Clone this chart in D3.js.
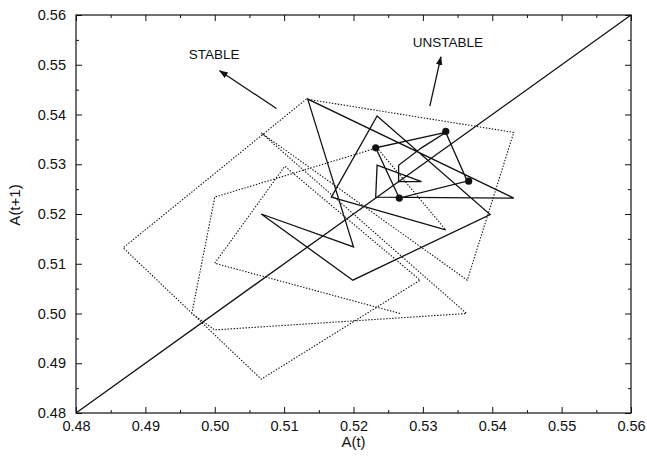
<!DOCTYPE html>
<html><head><meta charset="utf-8">
<script src="https://cdn.jsdelivr.net/npm/d3@7"></script>
<style>
body{margin:0;background:#fff}
svg{display:block}
text{font-family:"Liberation Sans",Arial,Helvetica,sans-serif;fill:#111}
</style>
</head><body>
<svg id="chart" width="647" height="456"></svg>
<script>
// ---- data ----
const xTicks = [0.48,0.49,0.50,0.51,0.52,0.53,0.54,0.55,0.56];
const yTicks = [0.48,0.49,0.50,0.51,0.52,0.53,0.54,0.55,0.56];
const xTickLabels = ["0.48","0.49","0.50","0.51","0.52","0.53","0.54","0.55","0.56"];
const yTickLabels = ["0.48","0.49","0.50","0.51","0.52","0.53","0.54","0.55","0.56"];
const minorTicks = [0.485,0.495,0.505,0.515,0.525,0.535,0.545,0.555];
// time series A(t); points are (A(t), A(t+1))
const unstableSeries = [0.5333,0.5168,0.5234,0.5397,0.5199,0.5067,0.5200,0.5134,0.5431,0.5232,0.5234,0.5298,0.5265,0.5265,0.5298,0.5333,0.5364,0.5266,0.5232,0.5333,0.5364];
const stableSeries = [0.5267,0.5000,0.5101,0.5296,0.5067,0.4868,0.5132,0.5431,0.5364,0.5067,0.5363,0.5000,0.4967,0.5000,0.5234,0.5333,0.5168];
const cycleSeries = [0.5232,0.5333,0.5366,0.5266,0.5232];
const diagonal = [0.48,0.56];
const annotations = ["STABLE","UNSTABLE"];

// ---- layout ----
const W=647,H=456;
const m={left:76,right:16,top:15,bottom:43};
const svg=d3.select("#chart");
const x=d3.scaleLinear().domain([0.48,0.56]).range([m.left,W-m.right]);
const y=d3.scaleLinear().domain([0.48,0.56]).range([H-m.bottom,m.top]);
const ink="#111";

function pairs(a){const p=[];for(let i=0;i<a.length-1;i++)p.push([a[i],a[i+1]]);return p;}
const line=d3.line().x(d=>x(d[0])).y(d=>y(d[1]));

// axes
const fmtX=(d,i)=>xTickLabels[i], fmtY=(d,i)=>yTickLabels[i];
function styleAxis(g){g.select(".domain").remove();g.selectAll("line").attr("stroke",ink).attr("stroke-width",1);g.selectAll("text").attr("font-size","14.5px").attr("fill",ink);}
svg.append("g").attr("transform",`translate(0,${H-m.bottom})`)
  .call(d3.axisBottom(x).tickValues(xTicks).tickFormat(fmtX).tickSize(-6).tickPadding(8)).call(styleAxis);
svg.append("g").attr("transform",`translate(0,${H-m.bottom})`)
  .call(d3.axisBottom(x).tickValues(minorTicks).tickFormat("").tickSize(-3)).call(styleAxis);
svg.append("g").attr("transform",`translate(0,${m.top})`)
  .call(d3.axisTop(x).tickValues(xTicks).tickFormat("").tickSize(-6)).call(styleAxis);
svg.append("g").attr("transform",`translate(0,${m.top})`)
  .call(d3.axisTop(x).tickValues(minorTicks).tickFormat("").tickSize(-3)).call(styleAxis);
svg.append("g").attr("transform",`translate(${m.left},0)`)
  .call(d3.axisLeft(y).tickValues(yTicks).tickFormat(fmtY).tickSize(-6).tickPadding(10)).call(styleAxis);
svg.append("g").attr("transform",`translate(${m.left},0)`)
  .call(d3.axisLeft(y).tickValues(minorTicks).tickFormat("").tickSize(-3)).call(styleAxis);
svg.append("g").attr("transform",`translate(${W-m.right},0)`)
  .call(d3.axisRight(y).tickValues(yTicks).tickFormat("").tickSize(-6)).call(styleAxis);
svg.append("g").attr("transform",`translate(${W-m.right},0)`)
  .call(d3.axisRight(y).tickValues(minorTicks).tickFormat("").tickSize(-3)).call(styleAxis);

// frame
svg.append("rect").attr("x",m.left).attr("y",m.top).attr("width",W-m.left-m.right).attr("height",H-m.top-m.bottom)
  .attr("fill","none").attr("stroke",ink).attr("stroke-width",1.2);

// axis titles
svg.append("text").attr("x",(m.left+W-m.right)/2).attr("y",447).attr("text-anchor","middle").attr("font-size","15px").text("A(t)");
svg.append("text").attr("transform","translate(20,205) rotate(-90)").attr("text-anchor","middle").attr("font-size","15px").text("A(t+1)");

// diagonal
svg.append("path").datum(diagonal.map(v=>[v,v])).attr("d",line).attr("fill","none").attr("stroke",ink).attr("stroke-width",1.3);

// stable (dotted)
svg.append("path").datum(pairs(stableSeries)).attr("d",line).attr("fill","none")
  .attr("stroke",ink).attr("stroke-width",1.1).attr("stroke-dasharray","1.4,1.6");
// unstable (solid)
svg.append("path").datum(pairs(unstableSeries)).attr("d",line).attr("fill","none")
  .attr("stroke",ink).attr("stroke-width",1.3).attr("stroke-linejoin","miter");
// period-4 cycle dots
svg.selectAll("circle.cyc").data(pairs(cycleSeries).slice(0,4)).enter().append("circle")
  .attr("cx",d=>x(d[0])).attr("cy",d=>y(d[1])).attr("r",3.6).attr("fill",ink);

// annotations
svg.append("defs").append("marker").attr("id","ah").attr("viewBox","0 0 10 10").attr("refX",9).attr("refY",5)
  .attr("markerWidth",7).attr("markerHeight",7).attr("orient","auto")
  .append("path").attr("d","M0,1.5 L10,5 L0,8.5 Z").attr("fill",ink);
const ann=[
  {t:annotations[0],tx:0.4999,ty:0.5512,from:[0.5089,0.5412],to:[0.5007,0.5488]},
  {t:annotations[1],tx:0.5336,ty:0.5536,from:[0.5310,0.5417],to:[0.5326,0.5516]}
];
ann.forEach(a=>{
  svg.append("text").attr("x",x(a.tx)).attr("y",y(a.ty)).attr("text-anchor","middle").attr("font-size","13.5px").text(a.t);
  svg.append("line").attr("x1",x(a.from[0])).attr("y1",y(a.from[1])).attr("x2",x(a.to[0])).attr("y2",y(a.to[1]))
    .attr("stroke",ink).attr("stroke-width",1.3).attr("marker-end","url(#ah)");
});
</script>
</body></html>
